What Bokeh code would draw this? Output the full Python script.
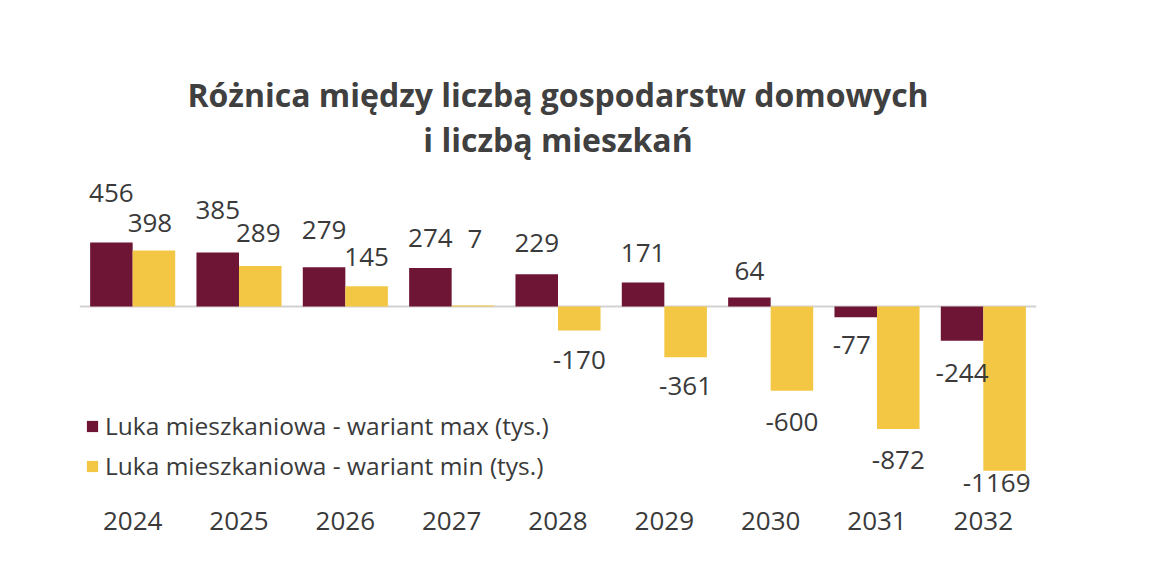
from bokeh.plotting import figure
from bokeh.models import ColumnDataSource, FactorRange, Range1d, Span, Title, Legend, LegendItem
from bokeh.transform import dodge
from bokeh.core.properties import value
from bokeh.embed import file_html
from bokeh.resources import INLINE

years = ["2024", "2025", "2026", "2027", "2028", "2029", "2030", "2031", "2032"]
luka_max = [456, 385, 279, 274, 229, 171, 64, -77, -244]
luka_min = [398, 289, 145, 7, -170, -361, -600, -872, -1169]
name_max = "Luka mieszkaniowa - wariant max (tys.)"
name_min = "Luka mieszkaniowa - wariant min (tys.)"
title_line1 = "Różnica między liczbą gospodarstw domowych"
title_line2 = "i liczbą mieszkań"

# label pixel offsets (style only)
dy_max = [-49, -42, -37, -30, -31, -29, -27, 28, 32]
dy_min = [-28, -33, -29, -67, 30, 29, 31, 31, 12]
dx_max = [0, 0, 0, 0, 0, 0, 0, -4, 0]
dx_min = [-4, -2, 0, 2, 0, 0, 0, 0, -8]

C_MAX = "#6E1434"
C_MIN = "#F3C744"
TXT = "#3a3a3a"
FONT = "Open Sans"

src = ColumnDataSource(dict(
    years=years, vmax=luka_max, vmin=luka_min,
    lmax=[str(v) for v in luka_max], lmin=[str(v) for v in luka_min],
    dymax=dy_max, dymin=dy_min, dxmax=dx_max, dxmin=dx_min,
))

px_per_unit = 0.1405
p = figure(width=1144, height=559, x_range=FactorRange(*years, range_padding=0),
           y_range=Range1d(-194 / px_per_unit, 146 / px_per_unit),
           output_backend="svg", toolbar_location=None,
           min_border_left=79, min_border_right=108, min_border_top=160, min_border_bottom=59)
p.x_range.factor_padding = 0
p.outline_line_color = None
p.xgrid.grid_line_color = None
p.ygrid.grid_line_color = None
p.yaxis.visible = False
p.xaxis.axis_line_color = None
p.xaxis.major_tick_line_color = None
p.xaxis.minor_tick_line_color = None
p.xaxis.major_label_text_font = FONT
p.xaxis.major_label_text_font_size = "26px"
p.xaxis.major_label_text_color = TXT
p.xaxis.major_label_standoff = 5

p.add_layout(Span(location=0, dimension="width", line_color="#d2d2d2", line_width=2, level="underlay"))

r1 = p.vbar(x=dodge("years", -0.2, range=p.x_range), top="vmax", width=0.4, source=src,
            fill_color=C_MAX, line_color=None)
r2 = p.vbar(x=dodge("years", 0.2, range=p.x_range), top="vmin", width=0.4, source=src,
            fill_color=C_MIN, line_color=None)

p.text(x=dodge("years", -0.2, range=p.x_range), y="vmax", text="lmax", source=src,
       x_offset="dxmax", y_offset="dymax", text_align="center", text_baseline="middle",
       text_font=value(FONT), text_font_size="26px", text_color=TXT)
p.text(x=dodge("years", 0.2, range=p.x_range), y="vmin", text="lmin", source=src,
       x_offset="dxmin", y_offset="dymin", text_align="center", text_baseline="middle",
       text_font=value(FONT), text_font_size="26px", text_color=TXT)

legend = Legend(items=[LegendItem(label=name_max, renderers=[r1]),
                       LegendItem(label=name_min, renderers=[r2])],
                location=(6, 18), orientation="vertical",
                glyph_width=14, glyph_height=14, label_height=24, spacing=7,
                label_standoff=6, padding=0, margin=0,
                border_line_alpha=0, background_fill_alpha=0,
                label_text_font=FONT, label_text_font_size="24.5px", label_text_color=TXT)
p.add_layout(legend)

p.add_layout(Title(text=title_line2, align="center", text_font=FONT, text_font_size="32px",
                   text_font_style="bold", text_color="#404040", standoff=0), "above")
p.add_layout(Title(text=title_line1, align="center", text_font=FONT, text_font_size="32px",
                   text_font_style="bold", text_color="#404040", standoff=0,
                   text_line_height=0.8), "above")

open("out.html", "w").write(file_html(p, INLINE))
